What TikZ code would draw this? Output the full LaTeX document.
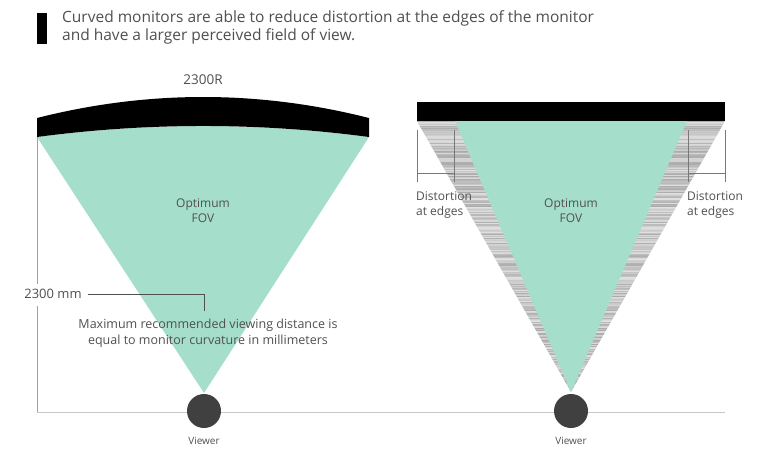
\documentclass[tikz,border=0pt]{standalone}
\usepackage{fontspec}
\setmainfont{Open Sans}
\definecolor{fov}{RGB}{166,222,204}
\definecolor{txt}{RGB}{80,80,80}
\definecolor{viewer}{RGB}{64,64,64}
\definecolor{baseln}{RGB}{200,200,200}
\definecolor{dimln}{RGB}{120,120,120}
\begin{document}
\begin{tikzpicture}[x=1pt,y=-1pt,
  lbl/.style={text=txt,inner sep=0pt,font=\fontsize{12}{15}\selectfont,align=center},
  viewerdot/.style={circle,fill=viewer,minimum size=34pt,inner sep=0pt},
  viewerlbl/.style={text=txt,inner sep=0pt,font=\fontsize{10}{12}\selectfont},
  dimline/.style={draw=dimln,line width=0.6pt},
  leader/.style={draw=txt,line width=0.7pt}]
\useasboundingbox (0,0) rectangle (768,450);
\fill[white] (0,0) rectangle (768,450);
% header
\fill[black] (37,13) rectangle (47,44);
\node[anchor=north west,text=txt,inner sep=0pt,align=left,font=\fontsize{15.5}{18}\selectfont] (hdr) at (62,10)
 {Curved monitors are able to reduce distortion at the edges of the monitor\\and have a larger perceived field of view.};
% baseline
\coordinate (bl0) at (37,412);
\coordinate (bl1) at (725,412);
\draw[baseln,line width=1pt] (bl0) -- (bl1);
% ---------- left: curved monitor ----------
\fill[fov] (37,137) .. controls (147.7,122.3) and (258.3,122.3) .. (369,137) -- (204,393) -- cycle;
\fill[black] (37,118) .. controls (147.7,90) and (258.3,90) .. (369,118) -- (369,137)
  .. controls (258.3,122.3) and (147.7,122.3) .. (37,137) -- cycle;
\node[lbl,font=\fontsize{13.5}{16}\selectfont] (r) at (203,80) {2300R};
\node[lbl] (fovL) at (203,211) {Optimum\\FOV};
\node[lbl,font=\fontsize{13}{16}\selectfont] (dist) at (53,294) {2300 mm};
\coordinate (mtop) at (37,137);
\draw[baseln!80!black,line width=0.6pt] (mtop) -- (37,284);
\draw[baseln!80!black,line width=0.6pt] (37,306) -- (bl0);
\coordinate (ldA) at (204,294);
\coordinate (ldB) at (204,311);
\draw[leader] ([xshift=6pt]dist.east) -- (ldA) -- (ldB);
\node[lbl,font=\fontsize{12.5}{15.5}\selectfont] (note) at (208,333)
 {Maximum recommended viewing distance is\\equal to monitor curvature in millimeters};
\node[viewerdot] (vL) at (204,411) {};
\node[viewerlbl] (vLt) at (204,441) {Viewer};
% ---------- right: flat monitor ----------
\begin{scope}
\clip (417,121) -- (725,121) -- (571,392) -- cycle;
\fill[gray!15] (417,121) rectangle (725,392);
\pgfmathsetseed{7}
\foreach \i in {0,...,271}{
  \pgfmathsetmacro{\yy}{121+1.0*\i}
  \pgfmathsetmacro{\sh}{int(12+22*rnd)}
  \draw[black!\sh,line width=0.45pt] (417,\yy) -- (725,\yy);
}
\end{scope}
\fill[fov] (455,121) -- (687,121) -- (571,392) -- cycle;
\fill[black] (417,102) rectangle (725,121);
\coordinate (dl1) at (417,130); \coordinate (dl2) at (417,182);
\coordinate (dl3) at (454,130); \coordinate (dl4) at (454,182);
\draw[dimline] (dl1) -- (dl2); \draw[dimline] (dl3) -- (dl4);
\draw[dimline] (417,173) -- (454,173);
\coordinate (dr1) at (688,130); \coordinate (dr2) at (688,182);
\coordinate (dr3) at (725,130); \coordinate (dr4) at (725,182);
\draw[dimline] (dr1) -- (dr2); \draw[dimline] (dr3) -- (dr4);
\draw[dimline] (688,173) -- (725,173);
\node[lbl,align=left,anchor=west] (dstL) at (416,205) {Distortion\\at edges};
\node[lbl,align=left,anchor=west] (dstR) at (687,205) {Distortion\\at edges};
\node[lbl] (fovR) at (571,211) {Optimum\\FOV};
\node[viewerdot] (vR) at (571,411) {};
\node[viewerlbl] (vRt) at (571,441) {Viewer};
\end{tikzpicture}
\end{document}
